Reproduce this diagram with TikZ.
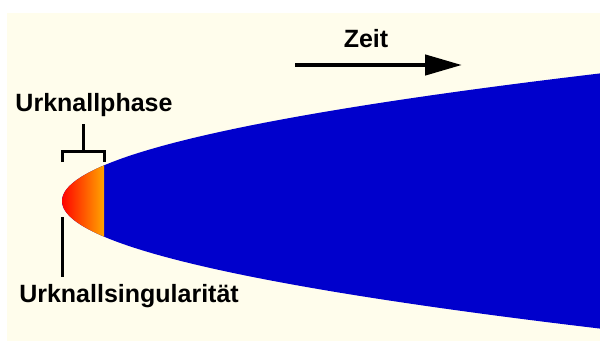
\documentclass[tikz,border=0pt]{standalone}
\usepackage{fontspec}
\setmainfont{Liberation Sans}
\usetikzlibrary{arrows.meta}
\definecolor{bg}{RGB}{255,253,236}
\definecolor{uniblue}{RGB}{0,0,204}
\definecolor{hotorange}{RGB}{255,165,0}
\begin{document}
\begin{tikzpicture}[x=1pt,y=-1pt,
  lbl/.style={font=\bfseries\fontsize{25}{30}\selectfont, inner sep=0pt, anchor=base},
  markline/.style={line width=3pt}]
\useasboundingbox (0,0) rectangle (600,341);
\fill[bg] (7,13) rectangle (600,341);
% universe (blue parabola)
\begin{scope}
  \clip (0,0) rectangle (600,341);
  \fill[uniblue] plot[domain=-135:135, samples=120, smooth] ({62+(\x/5.5)*(\x/5.5)},{201+\x}) -- cycle;
\end{scope}
% hot early phase
\begin{scope}
  \clip plot[domain=-37:37, samples=60, smooth] ({62+(\x/5.5)*(\x/5.5)},{201+\x}) -- cycle;
  \shade[left color=red, right color=hotorange] (61,150) rectangle (104,250);
\end{scope}
% time arrow
\node[lbl] (zeit) at (366,47) {Zeit};
\coordinate (t0) at (295,65);
\coordinate (t1) at (462,65);
\draw[line width=4.5pt, -{Triangle[length=37pt,width=20pt]}] (t0) -- (t1);
% Urknallphase bracket
\node[lbl] (phase) at (94,111) {Urknallphase};
\coordinate (bl) at (62,162);
\coordinate (bla) at (62,151);
\coordinate (bra) at (104,151);
\coordinate (br) at (104,162);
\coordinate (sm) at (83,151);
\coordinate (st) at (83,124);
\draw[markline] (bl) -- (bla) -- (bra) -- (br);
\draw[markline] (sm) -- (st);
% singularity
\node[lbl] (sing) at (129,302) {Urknallsingularität};
\coordinate (s0) at (62,217);
\coordinate (s1) at (62,277);
\draw[markline] (s0) -- (s1);
\end{tikzpicture}
\end{document}
